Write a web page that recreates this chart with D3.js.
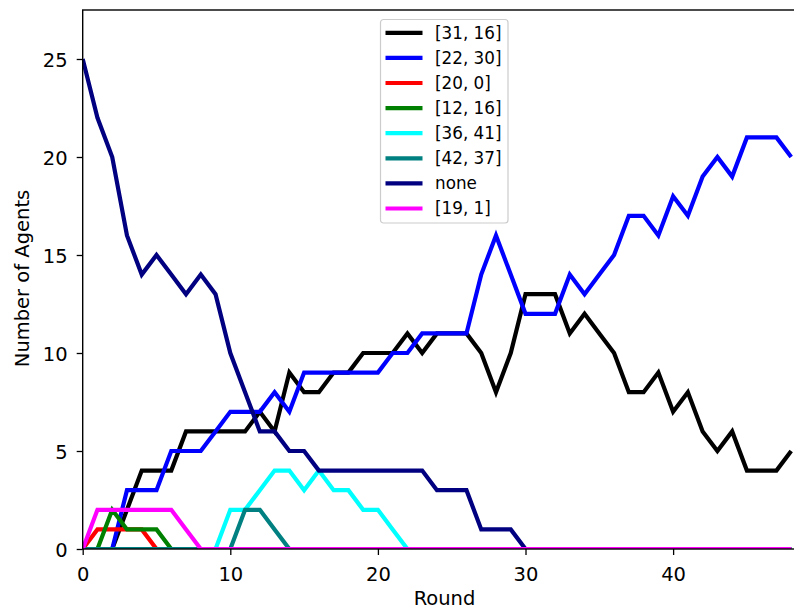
<!DOCTYPE html>
<html>
<head>
<meta charset="utf-8">
<script src="https://cdn.jsdelivr.net/npm/d3@7"></script>
<style>
  body { margin: 0; background: #fff; }
  svg { display: block; font-family: "DejaVu Sans", sans-serif; }
</style>
</head>
<body>
<svg id="chart" width="794" height="610"></svg>
<script>
// Agent counts per round for each group
const rounds = d3.range(0, 49);
const seriesNames = ["[31, 16]", "[22, 30]", "[20, 0]", "[12, 16]", "[36, 41]", "[42, 37]", "none", "[19, 1]"];
const seriesColors = ["#000000", "#0000ff", "#ff0000", "#008000", "#00ffff", "#008080", "#000080", "#ff00ff"];

const s31_16 = [0,0,0,2,4,4,4,6,6,6,6,6,7,6,9,8,8,9,9,10,10,10,11,10,11,11,11,10,8,10,13,13,13,11,12,11,10,8,8,9,7,8,6,5,6,4,4,4,5];
const s22_30 = [0,0,0,3,3,3,5,5,5,6,7,7,7,8,7,9,9,9,9,9,9,10,10,11,11,11,11,14,16,14,12,12,12,14,13,14,15,17,17,16,18,17,19,20,19,21,21,21,20];
const s20_0  = [0,1,1,1,1,0,0,0,0,0,0,0,0,0,0,0,0,0,0,0,0,0,0,0,0,0,0,0,0,0,0,0,0,0,0,0,0,0,0,0,0,0,0,0,0,0,0,0,0];
const s12_16 = [0,0,2,1,1,1,0,0,0,0,0,0,0,0,0,0,0,0,0,0,0,0,0,0,0,0,0,0,0,0,0,0,0,0,0,0,0,0,0,0,0,0,0,0,0,0,0,0,0];
const s36_41 = [0,0,0,0,0,0,0,0,0,0,2,2,3,4,4,3,4,3,3,2,2,1,0,0,0,0,0,0,0,0,0,0,0,0,0,0,0,0,0,0,0,0,0,0,0,0,0,0,0];
const s42_37 = [0,0,0,0,0,0,0,0,0,0,0,2,2,1,0,0,0,0,0,0,0,0,0,0,0,0,0,0,0,0,0,0,0,0,0,0,0,0,0,0,0,0,0,0,0,0,0,0,0];
const sNone  = [25,22,20,16,14,15,14,13,14,13,10,8,6,6,5,5,4,4,4,4,4,4,4,4,3,3,3,1,1,1,0,0,0,0,0,0,0,0,0,0,0,0,0,0,0,0,0,0,0];
const s19_1  = [0,2,2,2,2,2,2,1,0,0,0,0,0,0,0,0,0,0,0,0,0,0,0,0,0,0,0,0,0,0,0,0,0,0,0,0,0,0,0,0,0,0,0,0,0,0,0,0,0];

const xTicks = [0, 10, 20, 30, 40];
const yTicks = [0, 5, 10, 15, 20, 25];

const seriesValues = [s31_16, s22_30, s20_0, s12_16, s36_41, s42_37, sNone, s19_1];

const svg = d3.select("#chart");

// Plot area; the right edge runs past the visible canvas
const plotLeft = 82.7, plotTop = 10, plotBottom = 549, plotRight = 810;
const x = d3.scaleLinear().domain([0, 48]).range([plotLeft, 791.2]);
const y = d3.scaleLinear().domain([0, 27.5]).range([plotBottom, plotTop]);

svg.append("defs").append("clipPath").attr("id", "plotClip")
  .append("rect").attr("x", plotLeft).attr("y", plotTop)
  .attr("width", plotRight - plotLeft).attr("height", plotBottom - plotTop);

const line = d3.line().x((d, i) => x(rounds[i])).y(d => y(d));

const lines = svg.append("g").attr("clip-path", "url(#plotClip)");
seriesValues.forEach((vals, k) => {
  lines.append("path")
    .datum(vals)
    .attr("d", line)
    .attr("fill", "none")
    .attr("stroke", seriesColors[k])
    .attr("stroke-width", 4.2)
    .attr("stroke-linejoin", "miter")
    .attr("stroke-linecap", "butt");
});

// Axes
const fontSize = 19.5;
const xAxis = d3.axisBottom(x).tickValues(xTicks).tickSize(6).tickPadding(12).tickFormat(d3.format("d"));
const yAxis = d3.axisLeft(y).tickValues(yTicks).tickSize(6).tickPadding(9).tickFormat(d3.format("d"));

const gx = svg.append("g").attr("transform", `translate(0,${plotBottom})`).call(xAxis);
const gy = svg.append("g").attr("transform", `translate(${plotLeft},0)`).call(yAxis);
[gx, gy].forEach(g => {
  g.select(".domain").remove();
  g.selectAll(".tick line").attr("stroke", "#000").attr("stroke-width", 1.3);
  g.selectAll(".tick text").attr("fill", "#000").attr("font-size", fontSize)
    .attr("font-family", "DejaVu Sans, sans-serif");
});
gy.selectAll(".tick text").attr("dy", "0.4em");

// Frame
svg.append("rect")
  .attr("x", plotLeft).attr("y", plotTop)
  .attr("width", plotRight - plotLeft).attr("height", plotBottom - plotTop)
  .attr("fill", "none").attr("stroke", "#000").attr("stroke-width", 1.4);

// Axis titles
svg.append("text")
  .attr("x", 444.5).attr("y", 605)
  .attr("text-anchor", "middle").attr("font-size", fontSize)
  .text("Round");

svg.append("text")
  .attr("transform", `translate(28.5,${(plotTop + plotBottom) / 2 - 1}) rotate(-90)`)
  .attr("text-anchor", "middle").attr("font-size", fontSize)
  .text("Number of Agents");

// Legend
const legend = svg.append("g").attr("transform", "translate(380.5,19.5)");
legend.append("rect")
  .attr("width", 127.5).attr("height", 203.5)
  .attr("rx", 3).attr("ry", 3)
  .attr("fill", "#fff").attr("fill-opacity", 0.8)
  .attr("stroke", "#cccccc").attr("stroke-width", 1.2);
seriesNames.forEach((name, k) => {
  const rowY = 13.3 + k * 25.1;
  legend.append("line")
    .attr("x1", 5).attr("x2", 42)
    .attr("y1", rowY).attr("y2", rowY)
    .attr("stroke", seriesColors[k]).attr("stroke-width", 4.2);
  legend.append("text")
    .attr("x", 54.5).attr("y", rowY)
    .attr("dy", "0.35em")
    .attr("font-size", 16.8)
    .attr("fill", "#000")
    .text(name);
});
</script>
</body>
</html>
